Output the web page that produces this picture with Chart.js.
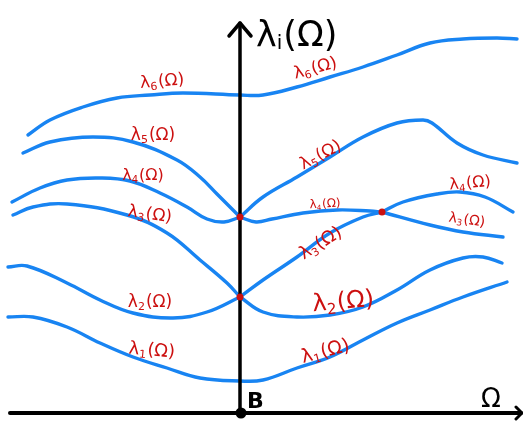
<!DOCTYPE html>
<html>
<head>
<meta charset="utf-8">
<script src="https://cdn.jsdelivr.net/npm/chart.js@4/dist/chart.umd.min.js"></script>
<style>
  html, body { margin: 0; padding: 0; background: #ffffff; }
  #wrap { width: 523px; height: 426px; position: relative; }
</style>
</head>
<body>
<div id="wrap"><canvas id="c" width="523" height="426"></canvas></div>
<script>
// Eigenvalue branches λ_i(Ω), sampled as [Ω, λ] pairs
const lambda1 = [[-4.64,1.92],[-4.14,1.92],[-3.46,1.72],[-2.80,1.40],[-2.14,1.12],[-1.46,0.90],[-0.80,0.70],[0,0.64],[0.46,0.66],[1.14,0.90],[1.80,1.12],[2.46,1.46],[3.14,1.80],[3.80,2.06],[4.46,2.32],[5.34,2.62]];
const lambda2 = [[-4.64,2.92],[-4.26,2.94],[-3.46,2.60],[-2.80,2.26],[-2.14,2.00],[-1.34,1.90],[-0.66,2.02],[0,2.32],[0.46,2.02],[1.14,1.92],[1.80,1.96],[2.46,2.12],[3.14,2.46],[3.80,2.86],[4.46,3.10],[4.86,3.12],[5.24,3.00]];
const lambda3 = [[-4.54,3.96],[-4.14,4.12],[-3.46,4.18],[-2.26,3.96],[-1.46,3.60],[-0.80,3.06],[-0.26,2.60],[0,2.32],[0.46,2.66],[1.14,3.12],[1.80,3.60],[2.46,3.92],[2.84,4.02],[3.80,3.76],[4.46,3.62],[5.26,3.52]];
const lambda4 = [[-4.56,4.22],[-4.00,4.50],[-3.46,4.66],[-2.80,4.70],[-2.20,4.64],[-1.60,4.40],[-1.06,4.12],[-0.66,3.88],[-0.32,3.82],[0,3.92],[0.32,3.82],[0.64,3.88],[1.26,4.00],[1.94,4.06],[2.60,4.04],[2.84,4.02],[3.26,4.22],[3.94,4.38],[4.40,4.42],[4.90,4.32],[5.46,4.02]];
const lambda5 = [[-4.34,5.20],[-3.80,5.42],[-2.94,5.52],[-2.14,5.42],[-1.26,5.06],[-0.80,4.72],[-0.46,4.38],[-0.14,4.06],[0,3.92],[0.46,4.32],[1.14,4.72],[1.80,5.12],[2.46,5.52],[3.14,5.80],[3.66,5.86],[3.84,5.80],[4.34,5.40],[4.86,5.16],[5.54,5.00]];
const lambda6 = [[-4.24,5.56],[-3.80,5.86],[-3.14,6.12],[-2.46,6.30],[-1.80,6.36],[-1.14,6.40],[0,6.36],[0.46,6.36],[1.14,6.52],[1.80,6.72],[2.46,6.92],[3.14,7.16],[3.80,7.40],[4.46,7.48],[5.14,7.50],[5.54,7.48]];

// Degenerate points where two branches meet
const crossings = [[0, 2.32], [0, 3.92], [2.84, 4.02]];

const series = [lambda1, lambda2, lambda3, lambda4, lambda5, lambda6];

// Branch labels: index, anchor (Ω, λ), rotation in degrees, font size
const branchLabels = [
  { i: 6, at: [-1.56, 6.66], rot: -5,  size: 17 },
  { i: 5, at: [-1.74, 5.58], rot: 0,   size: 17 },
  { i: 4, at: [-1.94, 4.78], rot: 0,   size: 16 },
  { i: 3, at: [-1.80, 4.00], rot: 8,   size: 17 },
  { i: 2, at: [-1.80, 2.24], rot: 0,   size: 17 },
  { i: 1, at: [-1.76, 1.28], rot: 5,   size: 18 },
  { i: 6, at: [1.50, 6.92],  rot: -15, size: 17 },
  { i: 5, at: [1.60, 5.18],  rot: -28, size: 17 },
  { i: 4, at: [1.70, 4.20],  rot: -3,  size: 12 },
  { i: 3, at: [1.60, 3.42],  rot: -32, size: 18 },
  { i: 2, at: [2.06, 2.26],  rot: -5,  size: 24 },
  { i: 1, at: [1.70, 1.26],  rot: -15, size: 19 },
  { i: 4, at: [4.60, 4.62],  rot: -5,  size: 16 },
  { i: 3, at: [4.54, 3.88],  rot: 8,   size: 14 }
];

const BLUE = '#1884f2';
const RED = '#cc1010';

// Split each branch at crossing points so the kinks stay sharp
function isCrossing(p) {
  return crossings.some(c => c[0] === p[0] && c[1] === p[1]);
}
function splitBranch(points) {
  const parts = [[]];
  points.forEach((p, k) => {
    parts[parts.length - 1].push(p);
    if (k > 0 && k < points.length - 1 && isCrossing(p)) parts.push([p]);
  });
  return parts;
}

const datasets = [];
series.forEach(s => {
  splitBranch(s).forEach(part => {
    datasets.push({
      data: part.map(p => ({ x: p[0], y: p[1] })),
      borderColor: BLUE,
      borderWidth: 3.4,
      borderCapStyle: 'round',
      borderJoinStyle: 'round',
      pointRadius: 0,
      tension: 0.4,
      fill: false
    });
  });
});

function drawLambda(ctx, x, y, idx, size, rot, color) {
  ctx.save();
  ctx.translate(x, y);
  ctx.rotate(rot * Math.PI / 180);
  ctx.fillStyle = color;
  ctx.textBaseline = 'alphabetic';
  const fMain = '500 ' + size + 'px "DejaVu Sans"';
  const fSub = '500 ' + Math.round(size * 0.62) + 'px "DejaVu Sans"';
  ctx.font = fMain;
  const wL = ctx.measureText('λ').width;
  const wP = ctx.measureText('(Ω)').width;
  ctx.font = fSub;
  const wS = ctx.measureText(String(idx)).width;
  const total = wL + wS + wP + 1;
  let cx = -total / 2;
  const base = size * 0.36;
  ctx.font = fMain;
  ctx.fillText('λ', cx, base);
  cx += wL;
  ctx.font = fSub;
  ctx.fillText(String(idx), cx, base + size * 0.18);
  cx += wS + 1;
  ctx.font = fMain;
  ctx.fillText('(Ω)', cx, base);
  ctx.restore();
}

const sketchPlugin = {
  id: 'sketch',
  afterDatasetsDraw(chart) {
    const ctx = chart.ctx;
    const xs = chart.scales.x, ys = chart.scales.y;
    const X = v => xs.getPixelForValue(v);
    const Y = v => ys.getPixelForValue(v);
    const x0 = X(0), y0 = Y(0);

    ctx.save();
    ctx.strokeStyle = '#000';
    ctx.lineCap = 'round';
    ctx.lineJoin = 'round';
    // horizontal axis with arrow
    ctx.lineWidth = 4;
    ctx.beginPath();
    ctx.moveTo(X(-4.6), y0);
    ctx.lineTo(X(5.62), y0);
    ctx.stroke();
    ctx.lineWidth = 3;
    ctx.beginPath();
    ctx.moveTo(X(5.52), y0 - 6);
    ctx.lineTo(X(5.64), y0);
    ctx.lineTo(X(5.52), y0 + 6);
    ctx.stroke();
    // vertical axis with arrow
    ctx.lineWidth = 3.5;
    ctx.beginPath();
    ctx.moveTo(x0, y0);
    ctx.lineTo(x0, Y(7.8));
    ctx.stroke();
    ctx.beginPath();
    ctx.moveTo(x0 - 11, Y(7.54));
    ctx.lineTo(x0, Y(7.8));
    ctx.lineTo(x0 + 11, Y(7.54));
    ctx.stroke();
    // origin point B
    ctx.fillStyle = '#000';
    ctx.beginPath();
    ctx.arc(x0 + 1, y0, 5.5, 0, Math.PI * 2);
    ctx.fill();
    ctx.font = 'bold 22px "DejaVu Sans"';
    ctx.textBaseline = 'alphabetic';
    ctx.textAlign = 'left';
    ctx.fillText('B', x0 + 7, y0 - 5);
    // Ω axis label
    ctx.font = '26px "DejaVu Sans"';
    ctx.fillText('Ω', X(4.82), y0 - 6);
    // λi(Ω) axis title
    ctx.font = '35px "DejaVu Sans"';
    const tx = x0 + 16, ty = Y(7.34);
    ctx.fillText('λ', tx, ty);
    const wl = ctx.measureText('λ').width;
    ctx.font = '20px "DejaVu Sans"';
    ctx.fillText('i', tx + wl, ty + 3);
    const wi = ctx.measureText('i').width;
    ctx.font = '35px "DejaVu Sans"';
    ctx.fillText('(Ω)', tx + wl + wi + 1, ty);

    // crossing markers
    ctx.fillStyle = RED;
    crossings.forEach(c => {
      ctx.beginPath();
      ctx.arc(X(c[0]), Y(c[1]), 3.5, 0, Math.PI * 2);
      ctx.fill();
    });

    // branch labels
    branchLabels.forEach(l => {
      drawLambda(ctx, X(l.at[0]), Y(l.at[1]), l.i, l.size, l.rot, RED);
    });
    ctx.restore();
  }
};

new Chart(document.getElementById('c'), {
  type: 'line',
  data: { datasets },
  options: {
    responsive: false,
    animation: false,
    layout: { padding: 0 },
    plugins: { legend: { display: false }, tooltip: { enabled: false } },
    scales: {
      x: { type: 'linear', min: -4.8, max: 5.66, display: false },
      y: { type: 'linear', min: -0.26, max: 8.26, display: false }
    }
  },
  plugins: [sketchPlugin]
});
</script>
</body>
</html>
